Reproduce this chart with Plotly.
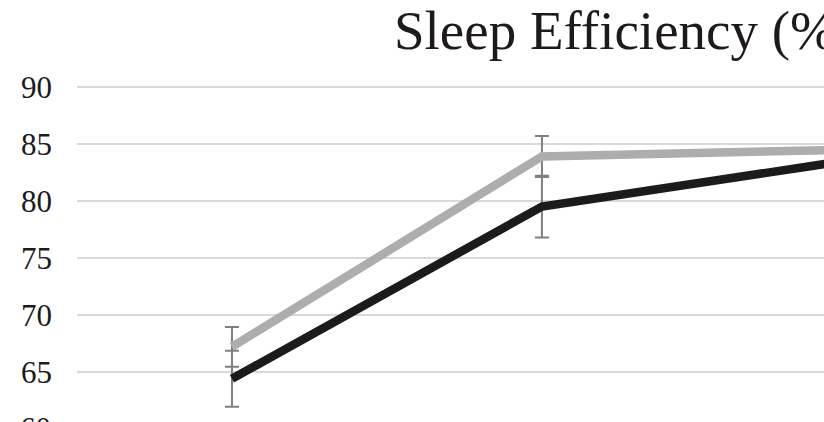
import plotly.graph_objects as go

# Measurement occasions and group means / standard errors
occasions = ["T1", "T2", "T3"]
group_a_mean = [67.2, 83.9, 84.5]
group_a_err = [1.75, 1.8, 1.8]
group_b_mean = [64.4, 79.5, 83.6]
group_b_err = [2.45, 2.7, 2.7]

tick_values = [60, 65, 70, 75, 80, 85, 90]
title_text = "Sleep Efficiency (%)"

W, H = 824, 422
M_L, M_T = 77, 60
Y_RANGE = [60.61, 92.36]

SERIF = "Liberation Serif, Times New Roman, serif"
TICK_SIZE = 31
TEXT_COLOR = "#1e1a1b"

fig = go.Figure()

fig.add_trace(go.Scatter(
    x=occasions, y=group_a_mean, mode="lines", name="Group A",
    line=dict(color="#adadad", width=8.5),
    error_y=dict(type="data", array=group_a_err, color="#808080",
                 thickness=2, width=7),
))
fig.add_trace(go.Scatter(
    x=occasions, y=group_b_mean, mode="lines", name="Group B",
    line=dict(color="#1b1b1b", width=8.5),
    error_y=dict(type="data", array=group_b_err, color="#808080",
                 thickness=2, width=7),
))

fig.update_layout(
    width=W, height=H,
    margin=dict(l=M_L, r=0, t=M_T, b=0),
    paper_bgcolor="white", plot_bgcolor="white",
    showlegend=False,
    font=dict(family=SERIF, color=TEXT_COLOR),
)

fig.update_xaxes(
    type="category", range=[-0.5, 1.91],
    showticklabels=False, showgrid=False, zeroline=False, showline=False,
)
fig.update_yaxes(
    range=Y_RANGE, tickvals=tick_values[1:],
    ticktext=[str(v) for v in tick_values[1:]],
    showgrid=True, gridcolor="#d9d9d9", gridwidth=1.5,
    zeroline=False, showline=False, ticks="",
    tickfont=dict(family=SERIF, size=TICK_SIZE, color=TEXT_COLOR),
    ticklabelstandoff=24,
)

# The lowest tick sits just below the plotting area; place its label
# at the paper position that the axis range gives for that value.
plot_h = H - M_T
frac = (tick_values[0] - Y_RANGE[0]) / (Y_RANGE[1] - Y_RANGE[0])
fig.add_annotation(
    text=str(tick_values[0]), xref="paper", yref="paper",
    x=0, y=frac, xanchor="right", yanchor="middle", xshift=-24,
    showarrow=False, font=dict(family=SERIF, size=TICK_SIZE, color=TEXT_COLOR),
)

fig.add_annotation(
    text=title_text, xref="paper", yref="paper",
    x=(392 - M_L) / (W - M_L), y=1 + (M_T - 30) / plot_h,
    xanchor="left", yanchor="middle", showarrow=False,
    font=dict(family=SERIF, size=55, color=TEXT_COLOR),
)

fig.write_html("out.html")
